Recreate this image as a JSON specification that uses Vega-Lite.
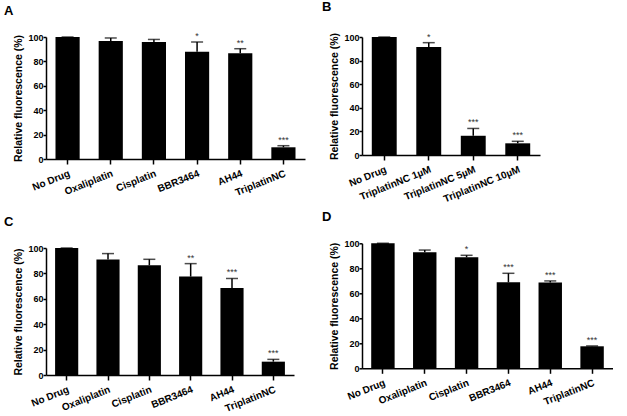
{
  "$schema": "https://vega.github.io/schema/vega-lite/v6.json",
  "padding": {"left": 4, "top": 1, "right": 0, "bottom": 0},
  "datasets": {
    "A": [
      {"treatment": "No Drug", "value": 100, "upper": 100, "sig": ""},
      {"treatment": "Oxaliplatin", "value": 96.7, "upper": 99.2, "sig": ""},
      {"treatment": "Cisplatin", "value": 96, "upper": 98, "sig": ""},
      {"treatment": "BBR3464", "value": 88, "upper": 95.9, "sig": "*"},
      {"treatment": "AH44", "value": 86.6, "upper": 90.4, "sig": "**"},
      {"treatment": "TriplatinNC", "value": 9.6, "upper": 10.9, "sig": "***"}
    ],
    "B": [
      {"treatment": "No Drug", "value": 100, "upper": 100, "sig": ""},
      {"treatment": "TriplatinNC 1µM", "value": 91.5, "upper": 95.2, "sig": "*"},
      {"treatment": "TriplatinNC 5µM", "value": 16.3, "upper": 22.5, "sig": "***"},
      {"treatment": "TriplatinNC 10µM", "value": 9.9, "upper": 11.6, "sig": "***"}
    ],
    "C": [
      {"treatment": "No Drug", "value": 100, "upper": 100, "sig": ""},
      {"treatment": "Oxaliplatin", "value": 90.9, "upper": 95.6, "sig": ""},
      {"treatment": "Cisplatin", "value": 86.4, "upper": 91.1, "sig": ""},
      {"treatment": "BBR3464", "value": 77.5, "upper": 87.7, "sig": "**"},
      {"treatment": "AH44", "value": 68.6, "upper": 76, "sig": "***"},
      {"treatment": "TriplatinNC", "value": 10.5, "upper": 12.3, "sig": "***"}
    ],
    "D": [
      {"treatment": "No Drug", "value": 100, "upper": 100, "sig": ""},
      {"treatment": "Oxaliplatin", "value": 92.8, "upper": 94.6, "sig": ""},
      {"treatment": "Cisplatin", "value": 88.8, "upper": 90.4, "sig": "*"},
      {"treatment": "BBR3464", "value": 68.8, "upper": 76, "sig": "***"},
      {"treatment": "AH44", "value": 68.6, "upper": 69.9, "sig": "***"},
      {"treatment": "TriplatinNC", "value": 17.6, "upper": 17.9, "sig": "***"}
    ]
  },
  "spacing": 17,
  "hconcat": [
    {
      "spacing": 18,
      "vconcat": [
        {
          "width": 259, "height": 122,
          "title": {"text": "A", "anchor": "start", "frame": "group", "dx": -42, "offset": 9},
          "data": {"name": "A"},
          "encoding": {
            "x": {"field": "treatment", "type": "nominal", "sort": null, "title": null, "scale": {"paddingInner": 0.44, "paddingOuter": 0.22}},
            "y": {"field": "value", "type": "quantitative", "title": "Relative fluorescence (%)", "scale": {"domain": [0, 100]}, "axis": {"values": [0, 20, 40, 60, 80, 100], "tickCount": 6}}
          },
          "layer": [
            {"mark": {"type": "bar", "color": "black"}},
            {"mark": {"type": "rule", "color": "black", "strokeWidth": 1.5}, "encoding": {"y2": {"field": "upper"}}},
            {"mark": {"type": "tick", "color": "black", "thickness": 1.5, "size": 12}, "encoding": {"y": {"field": "upper", "type": "quantitative", "title": "Relative fluorescence (%)", "axis": {"values": [0, 20, 40, 60, 80, 100], "tickCount": 6}}}},
            {"mark": {"type": "text", "baseline": "bottom", "dy": -1, "fontSize": 9, "color": "#333", "font": "Liberation Sans"}, "encoding": {"y": {"field": "upper", "type": "quantitative", "title": "Relative fluorescence (%)", "axis": {"values": [0, 20, 40, 60, 80, 100], "tickCount": 6}}, "text": {"field": "sig"}}}
          ]
        },
        {
          "width": 248, "height": 127,
          "title": {"text": "C", "anchor": "start", "frame": "group", "dx": -42, "offset": 9},
          "data": {"name": "C"},
          "encoding": {
            "x": {"field": "treatment", "type": "nominal", "sort": null, "title": null, "scale": {"paddingInner": 0.44, "paddingOuter": 0.22}},
            "y": {"field": "value", "type": "quantitative", "title": "Relative fluorescence (%)", "scale": {"domain": [0, 100]}, "axis": {"values": [0, 20, 40, 60, 80, 100], "tickCount": 6}}
          },
          "layer": [
            {"mark": {"type": "bar", "color": "black"}},
            {"mark": {"type": "rule", "color": "black", "strokeWidth": 1.5}, "encoding": {"y2": {"field": "upper"}}},
            {"mark": {"type": "tick", "color": "black", "thickness": 1.5, "size": 12}, "encoding": {"y": {"field": "upper", "type": "quantitative", "title": "Relative fluorescence (%)", "axis": {"values": [0, 20, 40, 60, 80, 100], "tickCount": 6}}}},
            {"mark": {"type": "text", "baseline": "bottom", "dy": -1, "fontSize": 9, "color": "#333", "font": "Liberation Sans"}, "encoding": {"y": {"field": "upper", "type": "quantitative", "title": "Relative fluorescence (%)", "axis": {"values": [0, 20, 40, 60, 80, 100], "tickCount": 6}}, "text": {"field": "sig"}}}
          ]
        }
      ]
    },
    {
      "spacing": 7.3,
      "vconcat": [
        {
          "width": 178, "height": 118,
          "title": {"text": "B", "anchor": "start", "frame": "group", "dx": -40, "offset": 12.7},
          "data": {"name": "B"},
          "encoding": {
            "x": {"field": "treatment", "type": "nominal", "sort": null, "title": null, "scale": {"paddingInner": 0.44, "paddingOuter": 0.22}},
            "y": {"field": "value", "type": "quantitative", "title": "Relative fluorescence (%)", "scale": {"domain": [0, 100]}, "axis": {"values": [0, 20, 40, 60, 80, 100], "tickCount": 6}}
          },
          "layer": [
            {"mark": {"type": "bar", "color": "black"}},
            {"mark": {"type": "rule", "color": "black", "strokeWidth": 1.5}, "encoding": {"y2": {"field": "upper"}}},
            {"mark": {"type": "tick", "color": "black", "thickness": 1.5, "size": 12}, "encoding": {"y": {"field": "upper", "type": "quantitative", "title": "Relative fluorescence (%)", "axis": {"values": [0, 20, 40, 60, 80, 100], "tickCount": 6}}}},
            {"mark": {"type": "text", "baseline": "bottom", "dy": -1, "fontSize": 9, "color": "#333", "font": "Liberation Sans"}, "encoding": {"y": {"field": "upper", "type": "quantitative", "title": "Relative fluorescence (%)", "axis": {"values": [0, 20, 40, 60, 80, 100], "tickCount": 6}}, "text": {"field": "sig"}}}
          ]
        },
        {
          "width": 251, "height": 125,
          "title": {"text": "D", "anchor": "start", "frame": "group", "dx": -40, "offset": 9},
          "data": {"name": "D"},
          "encoding": {
            "x": {"field": "treatment", "type": "nominal", "sort": null, "title": null, "scale": {"paddingInner": 0.44, "paddingOuter": 0.22}},
            "y": {"field": "value", "type": "quantitative", "title": "Relative fluorescence (%)", "scale": {"domain": [0, 100]}, "axis": {"values": [0, 20, 40, 60, 80, 100], "tickCount": 6}}
          },
          "layer": [
            {"mark": {"type": "bar", "color": "black"}},
            {"mark": {"type": "rule", "color": "black", "strokeWidth": 1.5}, "encoding": {"y2": {"field": "upper"}}},
            {"mark": {"type": "tick", "color": "black", "thickness": 1.5, "size": 12}, "encoding": {"y": {"field": "upper", "type": "quantitative", "title": "Relative fluorescence (%)", "axis": {"values": [0, 20, 40, 60, 80, 100], "tickCount": 6}}}},
            {"mark": {"type": "text", "baseline": "bottom", "dy": -1, "fontSize": 9, "color": "#333", "font": "Liberation Sans"}, "encoding": {"y": {"field": "upper", "type": "quantitative", "title": "Relative fluorescence (%)", "axis": {"values": [0, 20, 40, 60, 80, 100], "tickCount": 6}}, "text": {"field": "sig"}}}
          ]
        }
      ]
    }
  ],
  "config": {
    "background": "white",
    "view": {"stroke": null},
    "title": {"font": "Liberation Sans", "fontSize": 13, "fontWeight": "bold", "color": "black", "baseline": "bottom"},
    "axis": {
      "grid": false,
      "domainColor": "black",
      "domainWidth": 1.5,
      "tickColor": "black",
      "tickWidth": 1.5,
      "labelFont": "Liberation Sans",
      "labelFontWeight": "bold",
      "labelFontSize": 10,
      "labelColor": "black",
      "titleFont": "Liberation Sans",
      "titleFontWeight": "bold",
      "titleFontSize": 10.5,
      "titleColor": "black"
    },
    "axisY": {"tickSize": 3, "labelPadding": 0, "labelFontSize": 9, "labelOverlap": false, "tickCount": 6, "titlePadding": 4.5},
    "axisX": {"labelAngle": -22, "labelAlign": "right", "labelBaseline": "top", "tickSize": 5, "labelPadding": 4}
  }
}
